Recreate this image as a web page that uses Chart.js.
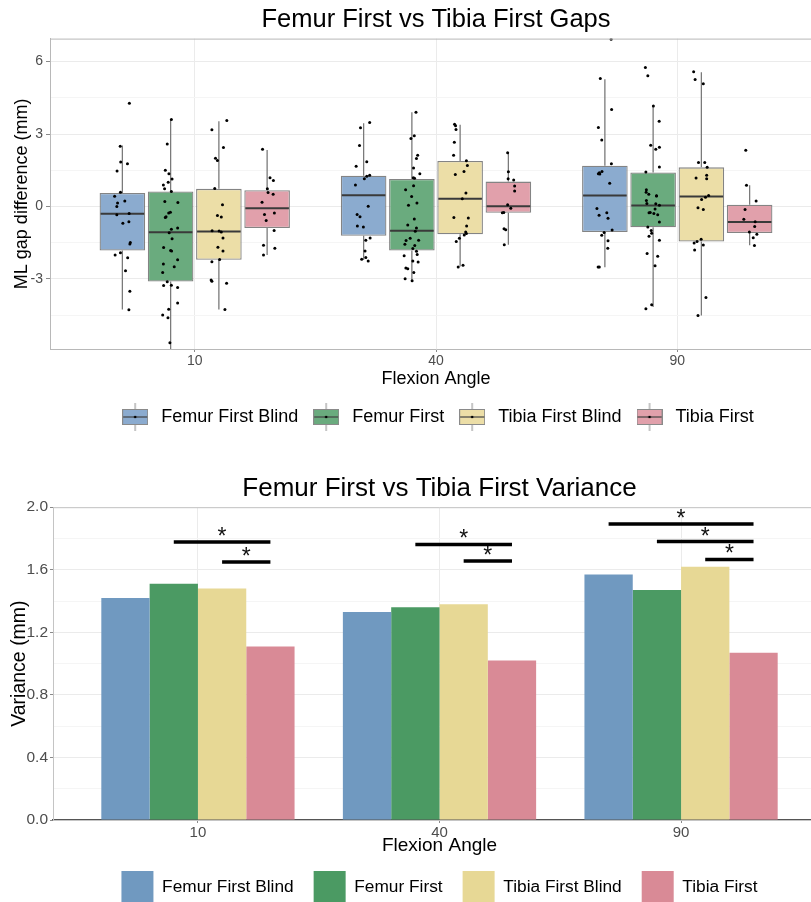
<!DOCTYPE html>
<html>
<head>
<meta charset="utf-8">
<script src="https://cdn.jsdelivr.net/npm/chart.js@4.4.1/dist/chart.umd.min.js"></script>
<style>
  html, body { margin: 0; padding: 0; background: #fff; width: 811px; height: 902px; overflow: hidden; }
  #gapsWrap { position: absolute; left: 0; top: 0; width: 830px; height: 436px; }
  #varWrap { position: absolute; left: 0; top: 450px; width: 830px; height: 463px; }
</style>
</head>
<body>
<div id="gapsWrap"><canvas id="gapsChart"></canvas></div>
<div id="varWrap"><canvas id="varChart"></canvas></div>
<script>
// flexion angles (x categories) and the four groups
const angles = ['10', '40', '90'];
const groups = ['Femur First Blind', 'Femur First', 'Tibia First Blind', 'Tibia First'];

// box stats per angle: [lower whisker, q1, median, q3, upper whisker]
const femurBlindBox = [[-4.26, -1.82, -0.30, 0.56, 2.52], [-2.21, -1.21, 0.47, 1.27, 3.45], [-2.52, -1.06, 0.45, 1.69, 5.27]];
const femurBox = [[-5.95, -3.11, -1.07, 0.62, 3.62], [-3.07, -1.82, -1.00, 1.14, 3.90], [-4.16, -0.86, 0.04, 1.41, 4.16]];
const tibiaBlindBox = [[-4.26, -2.21, -1.04, 0.73, 3.53], [-2.48, -1.15, 0.32, 1.88, 3.38], [-4.51, -1.45, 0.41, 1.62, 5.56]];
const tibiaBox = [[-2.01, -0.89, -0.07, 0.67, 2.34], [-1.58, -0.26, 0.01, 1.03, 2.22], [-1.60, -1.10, -0.64, 0.07, 0.88]];

// raw observations per angle: [jitter, gap difference]
const femurBlindPoints = [
  [[0.029,4.27],[-0.009,2.49],[-0.007,1.84],[0.021,1.77],[-0.022,1.47],[-0.032,0.42],[-0.008,0.59],[0.010,0.23],[-0.020,0.14],[-0.023,0.00],[-0.023,-0.34],[0.028,-0.29],[0.002,-0.69],[0.027,-0.63],[0.033,-1.49],[0.031,-1.55],[-0.008,-1.92],[-0.030,-2.01],[0.022,-2.12],[0.013,-2.66],[0.031,-3.51],[0.027,-4.27]],
  [[0.025,3.48],[-0.013,3.26],[-0.017,2.52],[0.013,1.85],[-0.031,1.67],[0.025,1.29],[0.013,1.25],[0.003,1.15],[-0.034,0.89],[0.019,0.01],[-0.027,-0.33],[-0.015,-0.42],[-0.026,-0.81],[-0.001,-0.85],[0.027,-1.30],[0.009,-1.40],[0.006,-1.84],[-0.008,-2.18],[0.009,-2.11],[0.019,-2.26]],
  [[0.026,6.92],[-0.019,5.30],[0.028,4.01],[-0.027,3.27],[-0.013,2.75],[0.027,1.77],[-0.012,1.45],[-0.023,1.40],[-0.027,1.36],[-0.021,1.34],[0.020,0.96],[-0.033,-0.08],[0.008,-0.26],[-0.024,-0.36],[0.013,-0.49],[0.030,-0.97],[-0.003,-1.08],[-0.013,-1.19],[0.013,-1.42],[0.012,-1.73],[-0.028,-2.51],[-0.023,-2.51]]
];
const femurPoints = [
  [[0.003,3.60],[-0.014,2.59],[-0.022,1.50],[-0.007,1.35],[0.006,1.14],[-0.010,1.00],[-0.030,0.89],[-0.025,0.73],[0.003,0.62],[-0.024,0.21],[0.030,0.16],[-0.001,-0.24],[-0.008,-0.27],[-0.019,-0.42],[-0.022,-0.46],[0.029,-0.89],[0.003,-0.94],[-0.006,-1.09],[0.006,-1.34],[-0.029,-1.70],[0.000,-1.82],[0.004,-1.84],[0.029,-2.21],[-0.030,-2.38],[0.015,-2.50],[-0.033,-2.73],[-0.014,-3.12],[-0.029,-3.27],[0.003,-3.26],[0.029,-3.35],[0.029,-4.00],[-0.008,-4.25],[-0.033,-4.49],[-0.011,-4.61],[-0.003,-5.64]],
  [[0.017,3.90],[0.010,2.93],[-0.004,2.81],[0.024,2.12],[0.019,1.99],[0.007,1.59],[0.033,1.36],[0.006,1.19],[0.011,1.17],[0.007,0.86],[-0.026,0.69],[-0.001,0.41],[0.021,0.14],[-0.014,0.05],[0.010,-0.52],[-0.017,-0.77],[0.019,-0.89],[0.014,-1.03],[-0.007,-1.32],[-0.024,-1.41],[0.028,-1.40],[-0.029,-1.56],[0.012,-1.62],[0.004,-1.74],[0.019,-1.85],[0.022,-1.99],[-0.032,-2.04],[0.004,-2.26],[0.026,-2.30],[-0.025,-2.55],[-0.017,-2.58],[0.008,-2.73],[-0.028,-2.99],[0.001,-3.07]],
  [[-0.032,5.75],[-0.022,5.41],[0.001,4.16],[0.025,3.53],[-0.010,2.54],[0.026,2.45],[0.011,2.37],[0.026,1.63],[-0.030,1.43],[-0.028,0.69],[-0.029,0.59],[-0.018,0.51],[0.014,0.44],[0.014,0.43],[-0.028,0.25],[-0.026,0.12],[0.011,0.11],[0.026,0.05],[0.008,-0.10],[-0.012,-0.25],[-0.017,-0.26],[0.003,-0.29],[0.019,-0.34],[0.026,-0.64],[-0.022,-0.85],[-0.008,-0.99],[-0.006,-1.11],[-0.017,-1.23],[0.026,-1.40],[-0.025,-1.95],[0.019,-2.06],[0.008,-2.45],[-0.006,-4.07],[-0.030,-4.23]]
];
const tibiaBlindPoints = [
  [[0.033,3.56],[-0.029,3.18],[0.019,2.44],[-0.014,2.00],[-0.006,1.90],[-0.017,0.74],[0.015,0.07],[-0.006,-0.37],[0.010,-0.44],[-0.028,-1.00],[0.001,-1.02],[0.010,-1.06],[0.017,-1.30],[-0.004,-1.69],[0.017,-1.84],[0.003,-2.19],[-0.029,-2.29],[-0.032,-3.04],[-0.029,-3.10],[0.032,-3.18],[0.025,-4.26]],
  [[-0.023,3.40],[-0.019,3.34],[-0.017,3.19],[-0.024,2.66],[-0.027,2.12],[0.026,1.89],[0.030,1.70],[0.016,1.45],[-0.020,1.32],[0.024,0.56],[0.009,0.32],[-0.026,-0.46],[0.034,-0.48],[0.027,-0.81],[0.023,-1.06],[0.026,-1.12],[0.017,-1.18],[-0.003,-1.32],[-0.016,-1.45],[0.012,-2.43],[-0.008,-2.51]],
  [[-0.032,5.58],[-0.026,5.26],[0.008,5.08],[-0.012,1.82],[0.014,1.82],[0.024,1.62],[-0.022,1.18],[0.022,1.29],[0.022,1.15],[0.030,0.45],[0.017,0.38],[0.001,0.29],[-0.014,-0.05],[0.008,-0.12],[-0.001,-1.36],[-0.018,-1.45],[-0.030,-1.51],[0.008,-1.59],[-0.028,-1.80],[0.019,-3.77],[-0.014,-4.51]]
];
const tibiaPoints = [
  [[-0.019,2.37],[0.012,1.19],[0.026,1.08],[0.001,0.73],[0.004,0.58],[0.025,0.51],[-0.021,0.18],[-0.011,-0.33],[0.030,-0.27],[-0.004,-0.58],[0.029,-0.99],[-0.015,-1.60],[-0.015,-2.01],[0.032,-1.73]],
  [[-0.003,2.22],[0.000,1.44],[-0.001,1.15],[0.022,1.10],[0.026,0.85],[0.026,0.64],[-0.003,0.07],[0.010,-0.07],[-0.019,-0.25],[-0.025,-0.26],[-0.018,-0.92],[-0.011,-0.96],[-0.017,-1.58]],
  [[-0.016,2.33],[-0.013,0.88],[0.027,0.23],[-0.019,-0.12],[-0.024,-0.53],[0.023,-0.63],[0.021,-0.83],[-0.001,-1.06],[0.030,-1.15],[0.015,-1.29],[0.020,-1.62]]
];

// variance per angle
const femurBlindVar = [1.42, 1.33, 1.57];
const femurVar = [1.51, 1.36, 1.47];
const tibiaBlindVar = [1.48, 1.38, 1.62];
const tibiaVar = [1.11, 1.02, 1.07];

// significance bars: [angle index, from group, to group, height]
const sigBrackets = [[0, 1, 3, 1.777], [0, 2, 3, 1.65], [1, 1, 3, 1.762], [1, 2, 3, 1.656], [2, 0, 3, 1.893], [2, 1, 3, 1.78], [2, 2, 3, 1.666]];

const gapTicks = [-4.5, -3, -1.5, 0, 1.5, 3, 4.5, 6];
const varTicks = [0, 0.2, 0.4, 0.6, 0.8, 1.0, 1.2, 1.4, 1.6, 1.8, 2.0];

const boxColors = ['#8babcf', '#6aab7e', '#ecdea7', '#e1a0ab'];
const barColors = ['#7099c0', '#4b9a63', '#e7d895', '#d98a96'];
const FONT = '"Liberation Sans", Arial, sans-serif';
Chart.defaults.font.family = FONT;

const allBoxes = [femurBlindBox, femurBox, tibiaBlindBox, tibiaBox];
const allPoints = [femurBlindPoints, femurPoints, tibiaBlindPoints, tibiaPoints];
const allVars = [femurBlindVar, femurVar, tibiaBlindVar, tibiaVar];

// dodge position of a group inside an angle (4 slots over 0.8 of the spacing)
const dodgeX = (a, g) => a + 1 + (g - 1.5) * 0.2;

const isMajor = (v, step) => Math.abs(v / step - Math.round(v / step)) < 1e-6;

// whiskers + median lines drawn on each box
const boxWhiskers = {
  id: 'boxWhiskers',
  afterDatasetDraw(chart, args) {
    const ds = chart.data.datasets[args.index];
    if (!ds.stats) return;
    const { ctx, chartArea: ca } = chart;
    const y = chart.scales.y;
    ctx.save();
    ctx.beginPath();
    ctx.rect(ca.left, ca.top, ca.width, ca.height);
    ctx.clip();
    args.meta.data.forEach((bar, i) => {
      const { x, width } = bar.getProps(['x', 'width'], true);
      const [lo, q1, med, q3, hi] = ds.stats[i];
      ctx.strokeStyle = '#7a7a7a';
      ctx.lineWidth = 1.3;
      ctx.beginPath();
      ctx.moveTo(x, y.getPixelForValue(q3));
      ctx.lineTo(x, y.getPixelForValue(hi));
      ctx.moveTo(x, y.getPixelForValue(q1));
      ctx.lineTo(x, y.getPixelForValue(lo));
      ctx.stroke();
      ctx.strokeStyle = '#3a3a3a';
      ctx.lineWidth = 2;
      ctx.beginPath();
      ctx.moveTo(x - width / 2 + 1, y.getPixelForValue(med));
      ctx.lineTo(x + width / 2 - 1, y.getPixelForValue(med));
      ctx.stroke();
    });
    ctx.restore();
  }
};

// panel frame lines
const panelFrame = {
  id: 'panelFrame',
  afterDatasetsDraw(chart, args, opts) {
    const { ctx, chartArea: ca } = chart;
    ctx.save();
    ctx.lineWidth = 1;
    ctx.strokeStyle = opts.color;
    ctx.beginPath();
    ctx.moveTo(ca.left, ca.top + 0.5);
    ctx.lineTo(ca.right, ca.top + 0.5);
    ctx.lineTo(ca.right, ca.bottom);
    ctx.stroke();
    ctx.restore();
  }
};

// asterisks above significance bars
const sigStars = {
  id: 'sigStars',
  afterDatasetsDraw(chart) {
    if (chart.canvas.id !== 'varChart') return;
    const { ctx, scales: { x, y } } = chart;
    ctx.save();
    ctx.fillStyle = '#111';
    ctx.font = '23px ' + FONT;
    ctx.textAlign = 'center';
    ctx.textBaseline = 'alphabetic';
    sigBrackets.forEach(([a, g1, g2, h]) => {
      const mid = (dodgeX(a, g1) + dodgeX(a, g2)) / 2;
      ctx.fillText('*', x.getPixelForValue(mid), y.getPixelForValue(h) + 2);
    });
    ctx.restore();
  }
};

function makeBoxKey(fill) {
  const c = document.createElement('canvas');
  c.width = 26; c.height = 28;
  const k = c.getContext('2d');
  k.strokeStyle = '#8a8a8a'; k.lineWidth = 1;
  k.beginPath(); k.moveTo(13, 0); k.lineTo(13, 28); k.stroke();
  k.fillStyle = fill;
  k.fillRect(0.5, 6.5, 25, 15);
  k.strokeStyle = '#8a8a8a';
  k.strokeRect(0.5, 6.5, 25, 15);
  k.strokeStyle = '#444'; k.lineWidth = 1.2;
  k.beginPath(); k.moveTo(1, 14); k.lineTo(25, 14); k.stroke();
  k.fillStyle = '#000';
  k.beginPath(); k.arc(13, 14, 1.3, 0, Math.PI * 2); k.fill();
  return c;
}

function linearX(extra) {
  return Object.assign({
    type: 'linear', min: 0.4, max: 3.6, offset: false,
    afterBuildTicks: s => { s.ticks = angles.map((_, i) => ({ value: i + 1 })); },
    ticks: { callback: v => angles[v - 1], color: '#4d4d4d', font: { size: 14 }, padding: 1, autoSkip: false, maxRotation: 0 },
    grid: { offset: false, color: '#ebebeb', tickColor: '#8a8a8a', tickLength: 3 },
    title: { display: true, text: 'Flexion Angle', color: '#000', font: { size: 18 } }
  }, extra);
}

// ---------- top chart: box plots ----------
const gapDatasets = [];
groups.forEach((g, gi) => {
  gapDatasets.push({
    type: 'bar',
    label: g,
    data: allBoxes[gi].map((s, a) => ({ x: a + 1, y: [s[1], s[3]] })),
    stats: allBoxes[gi],
    backgroundColor: boxColors[gi],
    borderColor: 'rgba(110,110,110,0.85)',
    borderWidth: 1.3,
    borderSkipped: false,
    categoryPercentage: 0.8,
    barPercentage: 0.945,
    order: 2
  });
});
groups.forEach((g, gi) => {
  const pts = [];
  allPoints[gi].forEach((list, a) => list.forEach(([j, v]) => pts.push({ x: dodgeX(a, gi) + j, y: v })));
  gapDatasets.push({
    type: 'scatter',
    label: g + ' points',
    data: pts,
    backgroundColor: '#000',
    borderWidth: 0,
    pointRadius: 1.5,
    order: 0
  });
});

const boxKeys = boxColors.map(makeBoxKey);

new Chart(document.getElementById('gapsChart'), {
  type: 'bar',
  data: { datasets: gapDatasets },
  plugins: [boxWhiskers, panelFrame],
  options: {
    responsive: true,
    maintainAspectRatio: false,
    animation: false,
    events: [],
    layout: { padding: { right: 8 } },
    scales: {
      x: linearX({
        afterFit: s => { s.height = 48; },
        title: { display: true, text: 'Flexion Angle', color: '#000', font: { size: 18 }, padding: { top: 0, bottom: 7 } },
        border: { color: '#b8b8b8' }
      }),
      y: {
        min: -5.9, max: 6.95,
        afterBuildTicks: s => { s.ticks = gapTicks.map(v => ({ value: v })); },
        afterFit: s => { s.width = 50; },
        ticks: { callback: v => isMajor(v, 3) ? String(v) : '', color: '#4d4d4d', font: { size: 14 }, padding: 3 },
        grid: {
          color: c => c.tick && isMajor(c.tick.value, 3) ? '#ebebeb' : '#f5f5f5',
          tickColor: c => c.tick && isMajor(c.tick.value, 3) ? '#8a8a8a' : 'rgba(0,0,0,0)',
          tickLength: 4
        },
        border: { color: '#b8b8b8' },
        title: { display: true, text: 'ML gap difference (mm)', color: '#000', font: { size: 18 }, padding: { top: 11, bottom: 0 } }
      }
    },
    plugins: {
      panelFrame: { color: '#b8b8b8' },
      tooltip: { enabled: false },
      title: {
        display: true, fullSize: false,
        text: 'Femur First vs Tibia First Gaps',
        color: '#000', font: { size: 25.5, weight: 'normal' },
        padding: { top: 5, bottom: 3 }
      },
      legend: {
        position: 'bottom', fullSize: false,
        labels: {
          usePointStyle: true, pointStyleWidth: 34, padding: 11,
          color: '#000', font: { size: 18 },
          generateLabels: () => groups.map((g, i) => ({
            text: g, pointStyle: boxKeys[i], datasetIndex: i,
            fillStyle: 'transparent', strokeStyle: 'transparent', lineWidth: 0, fontColor: '#000'
          }))
        }
      }
    }
  }
});

// ---------- bottom chart: variance bars ----------
const varDatasets = groups.map((g, gi) => ({
  type: 'bar',
  label: g,
  data: allVars[gi].map((v, a) => ({ x: a + 1, y: v })),
  backgroundColor: barColors[gi],
  borderWidth: 0,
  categoryPercentage: 0.8,
  barPercentage: 1,
  order: 2
}));
const bracketPts = [];
sigBrackets.forEach(([a, g1, g2, h]) => {
  bracketPts.push({ x: dodgeX(a, g1), y: h }, { x: dodgeX(a, g2), y: h }, { x: dodgeX(a, g2), y: null });
});
varDatasets.push({
  type: 'line',
  label: 'sig',
  data: bracketPts,
  borderColor: '#000',
  borderWidth: 3.5,
  borderCapStyle: 'butt',
  pointRadius: 0,
  spanGaps: false,
  order: 0
});

new Chart(document.getElementById('varChart'), {
  type: 'bar',
  data: { datasets: varDatasets },
  plugins: [panelFrame, sigStars],
  options: {
    responsive: true,
    maintainAspectRatio: false,
    animation: false,
    events: [],
    layout: { padding: { right: 4 } },
    scales: {
      x: linearX({
        afterFit: s => { s.height = 31; },
        ticks: { callback: v => angles[v - 1], color: '#4d4d4d', font: { size: 15 }, padding: 1, autoSkip: false, maxRotation: 0 },
        title: { display: true, text: 'Flexion Angle', color: '#000', font: { size: 19 }, padding: { top: 0, bottom: -6 } },
        border: { color: '#555', width: 1.3 }
      }),
      y: {
        min: 0, max: 2,
        afterBuildTicks: s => { s.ticks = varTicks.map(v => ({ value: v })); },
        afterFit: s => { s.width = 53; },
        ticks: { callback: v => isMajor(v, 0.4) ? v.toFixed(1) : '', color: '#4d4d4d', font: { size: 15.5 }, padding: 2 },
        grid: {
          color: c => c.tick && isMajor(c.tick.value, 0.4) ? '#ebebeb' : '#f5f5f5',
          tickColor: c => c.tick && isMajor(c.tick.value, 0.4) ? '#8a8a8a' : 'rgba(0,0,0,0)',
          tickLength: 3
        },
        border: { color: '#c4c4c4' },
        title: { display: true, text: 'Variance (mm)', color: '#000', font: { size: 19.5 }, padding: { top: 8, bottom: 0 } }
      }
    },
    plugins: {
      panelFrame: { color: '#c4c4c4' },
      tooltip: { enabled: false },
      title: {
        display: true, fullSize: false,
        text: 'Femur First vs Tibia First Variance',
        color: '#000', font: { size: 26, weight: 'normal' },
        padding: { top: 23, bottom: 3 }
      },
      legend: {
        position: 'bottom', fullSize: false,
        labels: {
          boxWidth: 32, boxHeight: 32, padding: 20,
          color: '#000', font: { size: 17.3 },
          filter: item => item.datasetIndex < 4
        }
      }
    }
  }
});
</script>
</body>
</html>
